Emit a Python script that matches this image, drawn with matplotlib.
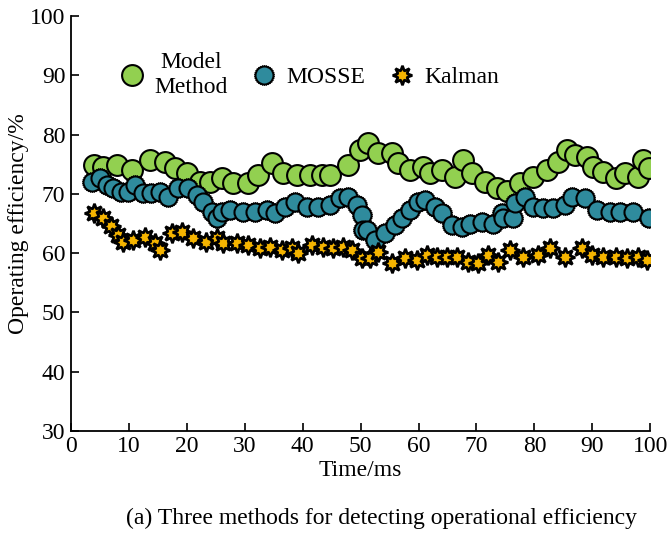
import matplotlib
matplotlib.use("Agg")
import matplotlib.pyplot as plt
from matplotlib.lines import Line2D
from matplotlib.legend_handler import HandlerTuple

plt.rcParams['font.family'] = 'serif'
plt.rcParams['font.serif'] = ['Liberation Serif', 'DejaVu Serif']

# Model Method
model_x = [3.9, 5.6, 7.9, 10.5, 13.6, 16.2, 18.0, 20.0, 22.3, 24.0, 26.0, 28.0, 30.6,
           32.3, 34.7, 36.6, 39.0, 41.3, 43.3, 44.7, 47.8, 49.9, 51.3, 53.0, 55.4,
           56.5, 58.5, 60.8, 62.0, 64.0, 66.3, 67.7, 69.2, 71.5, 73.5, 75.2, 77.5,
           79.8, 82.2, 84.1, 85.6, 87.0, 89.1, 90.2, 91.9, 94.0, 95.7, 97.9, 98.8, 99.7]
model_y = [74.9, 74.6, 74.9, 74.0, 75.7, 75.4, 74.3, 73.5, 72.0, 72.0, 72.7, 71.8, 71.8,
           73.2, 75.2, 73.5, 73.2, 73.2, 73.2, 73.2, 74.9, 77.4, 78.6, 76.9, 76.9,
           75.2, 74.0, 74.5, 73.5, 74.0, 72.9, 75.7, 73.5, 72.0, 71.0, 70.5, 71.8,
           72.9, 74.0, 75.4, 77.4, 76.5, 76.3, 74.6, 73.7, 72.7, 73.5, 72.9, 75.7, 74.3]

# MOSSE
mosse_x = [3.6, 5.0, 6.2, 7.3, 8.7, 9.8, 11.0, 12.4, 13.9, 15.4, 16.8, 18.5, 20.2, 21.7,
           22.8, 24.3, 25.2, 26.0, 27.5, 29.7, 31.8, 33.8, 35.2, 37.0, 38.7, 40.7, 42.7,
           44.7, 46.5, 47.8, 49.3, 50.2, 50.4, 51.1, 52.5, 54.2, 56.0, 57.1, 58.5, 59.9,
           61.1, 62.9, 64.0, 65.7, 67.5, 68.9, 70.9, 72.9, 74.4, 74.6, 76.3, 76.7, 78.4,
           79.8, 81.5, 83.2, 85.3, 86.5, 88.8, 90.8, 93.1, 94.8, 97.1, 99.7]
mosse_y = [72.0, 72.6, 71.5, 71.0, 70.4, 70.4, 71.5, 70.1, 70.1, 70.4, 69.5, 71.0, 71.0, 69.8,
           68.7, 67.0, 65.9, 67.0, 67.3, 67.0, 67.0, 67.3, 66.8, 67.8, 68.7, 67.8, 67.8,
           68.1, 69.3, 69.5, 68.1, 66.4, 63.9, 63.9, 62.2, 63.4, 64.7, 65.9, 67.3, 68.7,
           69.0, 67.8, 66.8, 64.7, 64.4, 65.0, 65.3, 65.0, 66.8, 65.9, 65.9, 68.4, 69.5,
           67.8, 67.6, 67.6, 68.1, 69.5, 69.3, 67.3, 67.0, 67.0, 67.0, 65.9]

# Kalman
kalman_x = [3.9, 5.6, 7.0, 8.1, 9.0, 10.7, 12.8, 14.5, 15.4, 17.4, 19.1, 21.1, 23.4, 25.2,
            26.3, 28.6, 30.6, 32.6, 34.4, 36.4, 38.1, 39.2, 41.6, 43.5, 45.3, 47.0, 48.5,
            50.2, 51.6, 53.0, 55.4, 57.7, 59.7, 61.4, 63.2, 64.9, 66.6, 68.6, 70.3, 72.0,
            73.7, 75.8, 78.1, 80.6, 82.7, 85.3, 88.2, 90.0, 91.9, 94.0, 96.0, 97.9, 99.4]
kalman_y = [66.8, 65.9, 64.5, 63.1, 61.9, 62.2, 62.8, 61.7, 60.5, 63.4, 63.6, 62.5, 61.9, 62.5,
            61.7, 61.7, 61.4, 60.9, 61.1, 60.5, 60.9, 60.0, 61.4, 61.1, 60.9, 61.1, 60.5,
            59.2, 59.2, 60.2, 58.3, 59.2, 58.8, 59.7, 59.4, 59.4, 59.4, 58.5, 58.3, 59.7,
            58.5, 60.5, 59.4, 59.7, 60.9, 59.4, 60.9, 59.7, 59.4, 59.4, 59.2, 59.4, 58.8]

labels = ['Model\nMethod', 'MOSSE', 'Kalman']
x_ticks = list(range(0, 101, 10))
y_ticks = list(range(30, 101, 10))

GREEN = '#92d050'
TEAL = '#2f8b9d'
GOLD = '#f5b400'

fig = plt.figure(figsize=(6.69, 5.36), dpi=100)
ax = fig.add_axes([0.106, 0.196, 0.866, 0.774])

green_style = dict(ls='none', marker='o', ms=15, mfc=GREEN, mec='black', mew=1.5)
ring_style = dict(ls='none', marker=(30, 1, 0), ms=15, mfc='black', mec='black', mew=0.5)
teal_style = dict(ls='none', marker='o', ms=13, mfc=TEAL, mec='black', mew=1.5)
star_style = dict(ls='none', marker=(8, 1, 0), ms=14, mfc=GOLD, mec='black', mew=1.9)

ax.plot(model_x, model_y, zorder=3, **green_style)
# fuzzy outline under the teal circles
ax.plot(mosse_x, mosse_y, zorder=4, **ring_style)
ax.plot(mosse_x, mosse_y, zorder=4, **teal_style)
ax.plot(kalman_x, kalman_y, zorder=5, **star_style)

ax.set_xlim(0, 100)
ax.set_ylim(30, 100)
ax.set_xticks(x_ticks)
ax.set_yticks(y_ticks)
ax.tick_params(direction='in', length=6, width=1.2, labelsize=17, pad=4)
for s in ('top', 'right'):
    ax.spines[s].set_visible(False)
for s in ('left', 'bottom'):
    ax.spines[s].set_linewidth(1.3)

ax.set_xlabel('Time/ms', fontsize=17, labelpad=2)
ax.set_ylabel('Operating efficiency/%', fontsize=17, labelpad=1)

h_model = Line2D([], [], **green_style)
h_ring = Line2D([], [], **ring_style)
h_mosse = Line2D([], [], **teal_style)
h_kal = Line2D([], [], **star_style)
leg = ax.legend([h_model, (h_ring, h_mosse), h_kal], labels, ncol=3, frameon=False,
                handler_map={tuple: HandlerTuple(ndivide=1, pad=0)},
                loc='center left', bbox_to_anchor=(0.05, 0.858), fontsize=17,
                handlelength=0.9, handletextpad=0.5, columnspacing=1.1)
for t in leg.get_texts():
    t.set_multialignment('center')
    t.set_linespacing(1.3)

fig.text(0.57, 0.032, '(a) Three methods for detecting operational efficiency',
         ha='center', va='center', fontsize=17)

fig.savefig('out.png', dpi=100)
